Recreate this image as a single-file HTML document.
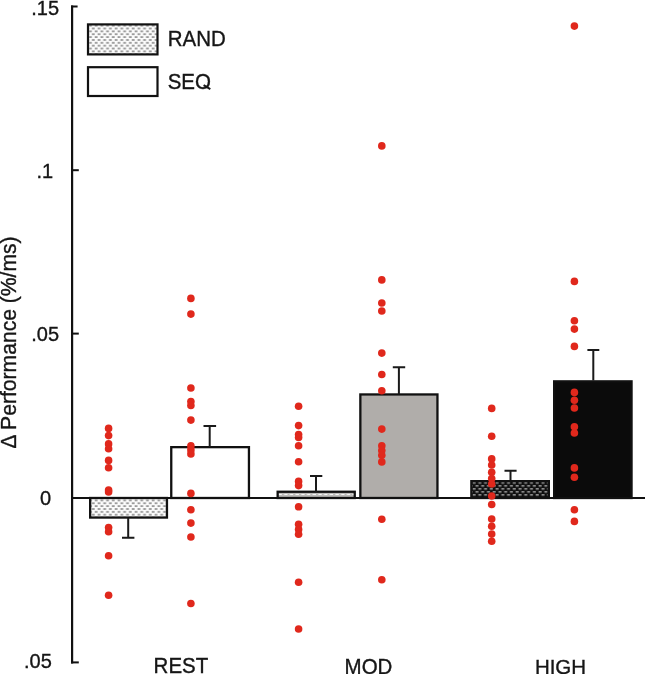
<!DOCTYPE html>
<html><head><meta charset="utf-8"><title>chart</title>
<style>
html,body{margin:0;padding:0;background:#fff;}
body{width:645px;height:674px;overflow:hidden;}
svg{display:block;will-change:transform;}
text{font-family:"Liberation Sans",sans-serif;fill:#161616;stroke:#161616;stroke-width:0.35px;}
</style></head><body>
<svg width="645" height="674" viewBox="0 0 645 674">
<defs>
<pattern id="pl" x="83.6" y="20.85" width="5.7" height="5.72" patternUnits="userSpaceOnUse">
<rect width="5.7" height="5.72" fill="#fcfcfc"/>
<rect x="2.6" y="1.43" width="2.8" height="1" fill="#484848"/>
<rect x="-0.25" y="4.29" width="2.8" height="1" fill="#484848"/>
<rect x="5.45" y="4.29" width="2.8" height="1" fill="#484848"/>
</pattern>
<pattern id="pm" x="278" y="490" width="5.7" height="10" patternUnits="userSpaceOnUse">
<rect width="5.7" height="10" fill="#bcbbb9"/>
<rect x="0.4" y="4" width="3.4" height="1" fill="#f6f6f6"/>
</pattern>
<pattern id="pd" x="471" y="481.25" width="5.74" height="6" patternUnits="userSpaceOnUse">
<rect width="5.74" height="6" fill="#0e0e0e"/>
<rect x="1.6" y="1.25" width="3" height="1" fill="#eeeeee"/>
<rect x="-1.27" y="4.25" width="3" height="1" fill="#eeeeee"/>
<rect x="4.47" y="4.25" width="3" height="1" fill="#eeeeee"/>
</pattern>
</defs>
<rect width="645" height="674" fill="#ffffff"/>

<rect x="88" y="24.4" width="69.5" height="30" fill="url(#pl)" stroke="#111" stroke-width="2.2"/>
<rect x="88" y="67.2" width="69.5" height="28.8" fill="#fff" stroke="#111" stroke-width="2.2"/>
<text transform="translate(167.7 45.8) scale(1 1.045)" font-size="20.5">RAND</text>
<text transform="translate(167.7 88.7) scale(1 1.045)" font-size="20.5">SEO</text>
<path d="M203.6 85.1 L210.3 89.2" stroke="#161616" stroke-width="2" fill="none"/>
<rect x="90.15" y="498.00" width="76.80" height="19.55" fill="url(#pl)" stroke="#111" stroke-width="2.3"/>
<rect x="171.25" y="447.15" width="77.70" height="50.85" fill="#ffffff" stroke="#111" stroke-width="2.3"/>
<rect x="277.65" y="491.75" width="77.10" height="6.25" fill="url(#pm)" stroke="#111" stroke-width="2.3"/>
<rect x="360.35" y="394.45" width="77.10" height="103.55" fill="#b0adaa" stroke="#111" stroke-width="2.3"/>
<rect x="471.35" y="481.15" width="77.50" height="16.85" fill="url(#pd)" stroke="#111" stroke-width="2.3"/>
<rect x="554.15" y="381.35" width="77.40" height="116.65" fill="#0b0b0b" stroke="#111" stroke-width="2.3"/>
<path d="M72.1 5.5 V663.4" stroke="#111" stroke-width="2.2" fill="none"/>
<path d="M71.0 6.5 H77.6" stroke="#111" stroke-width="2" fill="none"/>
<path d="M71.0 170.2 H78.8" stroke="#111" stroke-width="2" fill="none"/>
<path d="M71.0 333.6 H78.8" stroke="#111" stroke-width="2" fill="none"/>
<path d="M71.0 662.4 H78.8" stroke="#111" stroke-width="2" fill="none"/>
<path d="M72.1 498.0 H645" stroke="#111" stroke-width="2.2" fill="none"/>
<path d="M128.2 518.0 V537.8 M122.0 537.8 H134.4" stroke="#1a1a1a" stroke-width="2" fill="none"/>
<path d="M209.7 447.0 V425.9 M203.5 425.9 H216.1" stroke="#1a1a1a" stroke-width="2" fill="none"/>
<path d="M316.0 492.0 V475.9 M310.0 475.9 H322.3" stroke="#1a1a1a" stroke-width="2" fill="none"/>
<path d="M398.9 394.5 V367.2 M392.8 367.2 H405.2" stroke="#1a1a1a" stroke-width="2" fill="none"/>
<path d="M510.5 480.0 V470.8 M504.5 470.8 H516.6" stroke="#1a1a1a" stroke-width="2" fill="none"/>
<path d="M593.3 380.5 V350.1 M587.4 350.1 H599.3" stroke="#1a1a1a" stroke-width="2" fill="none"/>
<circle cx="108.6" cy="428.4" r="3.8" fill="#e0281c"/>
<circle cx="108.6" cy="435.6" r="3.8" fill="#e0281c"/>
<circle cx="108.6" cy="443.9" r="3.8" fill="#e0281c"/>
<circle cx="108.6" cy="448.7" r="3.8" fill="#e0281c"/>
<circle cx="108.6" cy="460.4" r="3.8" fill="#e0281c"/>
<circle cx="108.6" cy="467.7" r="3.8" fill="#e0281c"/>
<circle cx="108.6" cy="490.0" r="3.8" fill="#e0281c"/>
<circle cx="108.6" cy="491.9" r="3.8" fill="#e0281c"/>
<circle cx="108.6" cy="527.5" r="3.8" fill="#e0281c"/>
<circle cx="108.6" cy="531.8" r="3.8" fill="#e0281c"/>
<circle cx="108.6" cy="555.7" r="3.8" fill="#e0281c"/>
<circle cx="108.6" cy="595.2" r="3.8" fill="#e0281c"/>
<circle cx="190.9" cy="298.4" r="3.8" fill="#e0281c"/>
<circle cx="190.9" cy="314.1" r="3.8" fill="#e0281c"/>
<circle cx="190.9" cy="388.0" r="3.8" fill="#e0281c"/>
<circle cx="190.9" cy="401.5" r="3.8" fill="#e0281c"/>
<circle cx="190.9" cy="405.5" r="3.8" fill="#e0281c"/>
<circle cx="190.9" cy="420.1" r="3.8" fill="#e0281c"/>
<circle cx="190.9" cy="445.9" r="3.8" fill="#e0281c"/>
<circle cx="190.9" cy="449.9" r="3.8" fill="#e0281c"/>
<circle cx="190.9" cy="453.9" r="3.8" fill="#e0281c"/>
<circle cx="190.9" cy="493.4" r="3.8" fill="#e0281c"/>
<circle cx="190.9" cy="509.7" r="3.8" fill="#e0281c"/>
<circle cx="190.9" cy="523.1" r="3.8" fill="#e0281c"/>
<circle cx="190.9" cy="537.0" r="3.8" fill="#e0281c"/>
<circle cx="190.9" cy="603.5" r="3.8" fill="#e0281c"/>
<circle cx="298.6" cy="406.3" r="3.8" fill="#e0281c"/>
<circle cx="298.6" cy="425.6" r="3.8" fill="#e0281c"/>
<circle cx="298.6" cy="434.5" r="3.8" fill="#e0281c"/>
<circle cx="298.6" cy="437.5" r="3.8" fill="#e0281c"/>
<circle cx="298.6" cy="445.8" r="3.8" fill="#e0281c"/>
<circle cx="298.6" cy="461.8" r="3.8" fill="#e0281c"/>
<circle cx="298.6" cy="481.4" r="3.8" fill="#e0281c"/>
<circle cx="298.6" cy="485.6" r="3.8" fill="#e0281c"/>
<circle cx="298.6" cy="506.8" r="3.8" fill="#e0281c"/>
<circle cx="298.6" cy="524.2" r="3.8" fill="#e0281c"/>
<circle cx="298.6" cy="529.4" r="3.8" fill="#e0281c"/>
<circle cx="298.6" cy="534.2" r="3.8" fill="#e0281c"/>
<circle cx="298.6" cy="582.2" r="3.8" fill="#e0281c"/>
<circle cx="298.6" cy="629.0" r="3.8" fill="#e0281c"/>
<circle cx="381.8" cy="145.9" r="3.8" fill="#e0281c"/>
<circle cx="381.8" cy="279.9" r="3.8" fill="#e0281c"/>
<circle cx="381.8" cy="303.0" r="3.8" fill="#e0281c"/>
<circle cx="381.8" cy="311.0" r="3.8" fill="#e0281c"/>
<circle cx="381.8" cy="353.1" r="3.8" fill="#e0281c"/>
<circle cx="381.8" cy="374.5" r="3.8" fill="#e0281c"/>
<circle cx="381.8" cy="390.8" r="3.8" fill="#e0281c"/>
<circle cx="381.8" cy="429.1" r="3.8" fill="#e0281c"/>
<circle cx="381.8" cy="445.8" r="3.8" fill="#e0281c"/>
<circle cx="381.8" cy="450.5" r="3.8" fill="#e0281c"/>
<circle cx="381.8" cy="455.3" r="3.8" fill="#e0281c"/>
<circle cx="381.8" cy="461.9" r="3.8" fill="#e0281c"/>
<circle cx="381.8" cy="519.2" r="3.8" fill="#e0281c"/>
<circle cx="381.8" cy="579.7" r="3.8" fill="#e0281c"/>
<circle cx="491.7" cy="408.4" r="3.8" fill="#e0281c"/>
<circle cx="491.7" cy="436.3" r="3.8" fill="#e0281c"/>
<circle cx="491.7" cy="458.9" r="3.8" fill="#e0281c"/>
<circle cx="491.7" cy="465.0" r="3.8" fill="#e0281c"/>
<circle cx="491.7" cy="472.2" r="3.8" fill="#e0281c"/>
<circle cx="491.7" cy="478.6" r="3.8" fill="#e0281c"/>
<circle cx="491.7" cy="484.0" r="3.8" fill="#e0281c"/>
<circle cx="491.7" cy="496.0" r="3.8" fill="#e0281c"/>
<circle cx="491.7" cy="504.5" r="3.8" fill="#e0281c"/>
<circle cx="491.7" cy="519.0" r="3.8" fill="#e0281c"/>
<circle cx="491.7" cy="526.3" r="3.8" fill="#e0281c"/>
<circle cx="491.7" cy="534.1" r="3.8" fill="#e0281c"/>
<circle cx="491.7" cy="541.2" r="3.8" fill="#e0281c"/>
<circle cx="574.4" cy="26.1" r="3.8" fill="#e0281c"/>
<circle cx="574.4" cy="281.4" r="3.8" fill="#e0281c"/>
<circle cx="574.4" cy="320.8" r="3.8" fill="#e0281c"/>
<circle cx="574.4" cy="329.1" r="3.8" fill="#e0281c"/>
<circle cx="574.4" cy="346.4" r="3.8" fill="#e0281c"/>
<circle cx="574.4" cy="392.4" r="3.8" fill="#e0281c"/>
<circle cx="574.4" cy="400.3" r="3.8" fill="#e0281c"/>
<circle cx="574.4" cy="408.0" r="3.8" fill="#e0281c"/>
<circle cx="574.4" cy="426.8" r="3.8" fill="#e0281c"/>
<circle cx="574.4" cy="433.0" r="3.8" fill="#e0281c"/>
<circle cx="574.4" cy="467.9" r="3.8" fill="#e0281c"/>
<circle cx="574.4" cy="477.3" r="3.8" fill="#e0281c"/>
<circle cx="574.4" cy="509.7" r="3.8" fill="#e0281c"/>
<circle cx="574.4" cy="521.4" r="3.8" fill="#e0281c"/>
<text x="45.2" y="14.8" font-size="20" text-anchor="middle">.15</text>
<text x="44.8" y="177.5" font-size="20" text-anchor="middle">.1</text>
<text x="45.2" y="340.5" font-size="20" text-anchor="middle">.05</text>
<text x="45.6" y="505.2" font-size="20" text-anchor="middle">0</text>
<text x="37.9" y="668.2" font-size="20" text-anchor="middle">.05</text>
<text transform="translate(180.9 673.4) scale(1 1.045)" font-size="20.5" text-anchor="middle">REST</text>
<text transform="translate(368.5 673.6) scale(1 1.035)" font-size="20.5" text-anchor="middle">MOD</text>
<text transform="translate(560.5 673.7) scale(1 1.03)" font-size="20.5" text-anchor="middle">HIGH</text>
<text transform="translate(16.4 448.6) rotate(-90) scale(1 1.05)" font-size="20.8">&#916;</text>
<text transform="translate(16.4 429.9) rotate(-90) scale(1 1.04)" font-size="21.12">Performance (%/ms)</text>
</svg></body></html>
